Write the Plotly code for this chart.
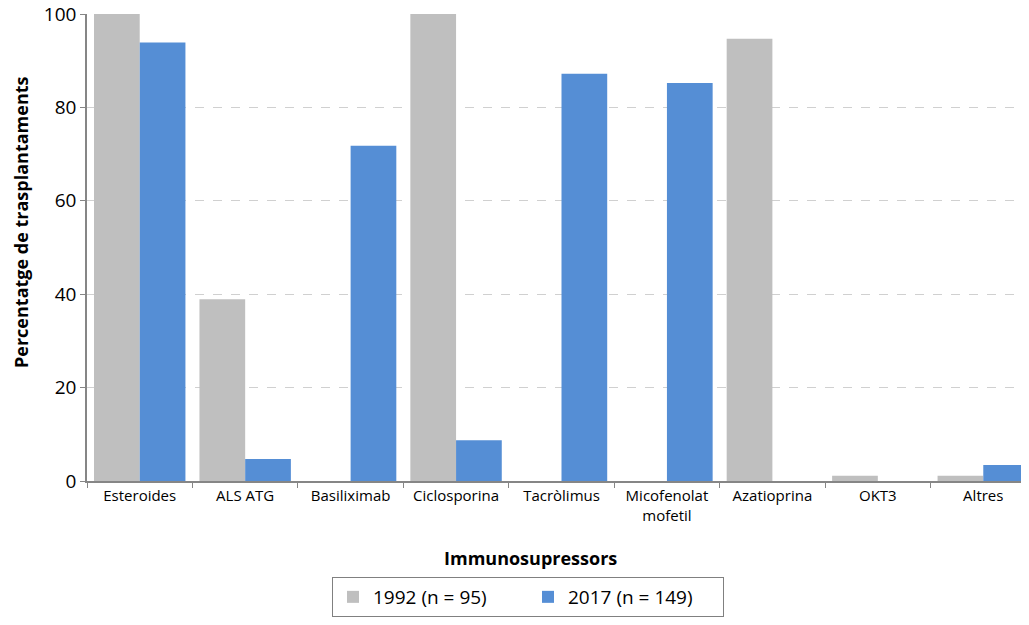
import plotly.graph_objects as go

categories = ["Esteroides", "ALS ATG", "Basiliximab", "Ciclosporina", "Tacròlimus",
              "Micofenolat<br>mofetil", "Azatioprina", "OKT3", "Altres"]
series_1992 = [100, 38.9, 0, 100, 0, 0, 94.7, 1.1, 1.1]
series_2017 = [93.9, 4.7, 71.8, 8.7, 87.2, 85.2, 0, 0, 3.4]
name_1992 = "1992 (n = 95)"
name_2017 = "2017 (n = 149)"
y_ticks = [0, 20, 40, 60, 80, 100]

# the page adds an 8px body margin, so positions below are in page pixels
W, H = 1029, 625
OFF = 8
PLOT_L, PLOT_R, PLOT_T, PLOT_B = 87, 1036, 14, 481
L, T = PLOT_L - OFF, PLOT_T - OFF
R = W - (PLOT_R - OFF)
B = H - (PLOT_B - OFF)
pw, ph = PLOT_R - PLOT_L, PLOT_B - PLOT_T
font = "Open Sans, Lato, sans-serif"


def px_x(px):
    return (px - PLOT_L) / pw


def px_y(py):
    return (PLOT_B - py) / ph


fig = go.Figure()
fig.add_trace(go.Bar(x=categories, y=series_1992, name=name_1992,
                     marker=dict(color="#BFBFBF", line=dict(width=0))))
fig.add_trace(go.Bar(x=categories, y=series_2017, name=name_2017,
                     marker=dict(color="#558ED5", line=dict(width=0))))

fig.update_layout(
    width=W, height=H,
    margin=dict(l=L, r=R, t=T, b=B, autoexpand=False),
    paper_bgcolor="white", plot_bgcolor="white",
    barmode="group", bargap=0.133, bargroupgap=0,
    font=dict(family=font, color="#000000"),
    showlegend=True,
    legend=dict(orientation="h", x=px_x(528), xanchor="center",
                y=px_y(577), yanchor="top",
                bordercolor="#808080", borderwidth=1,
                font=dict(size=19, family=font),
                itemsizing="constant", entrywidth=150),
    xaxis=dict(range=[-0.5, 8.5], showgrid=False, showline=True,
               linecolor="#868686", linewidth=2,
               ticks="outside", tickson="boundaries", ticklen=5,
               tickcolor="#868686", tickfont=dict(size=15, family=font),
               fixedrange=True, automargin=False),
    yaxis=dict(range=[0, 100], tickvals=y_ticks, showgrid=True,
               gridcolor="#D0D0D0", griddash="dash", gridwidth=1,
               showline=True, linecolor="#868686", linewidth=1.5,
               ticks="outside", ticklen=5, tickcolor="#868686",
               tickfont=dict(size=19, family=font), zeroline=False,
               ticklabeloverflow="allow",
               fixedrange=True, automargin=False),
    annotations=[
        dict(text="<b>Immunosupressors</b>", xref="paper", yref="paper",
             x=px_x(530), y=px_y(558), xanchor="center", yanchor="middle",
             showarrow=False, font=dict(size=18, family=font)),
        dict(text="<b>Percentatge de trasplantaments</b>", xref="paper", yref="paper",
             x=px_x(21), y=px_y(222), xanchor="center", yanchor="middle",
             textangle=-90, showarrow=False, font=dict(size=18, family=font)),
    ],
)

fig.write_html("out.html")
